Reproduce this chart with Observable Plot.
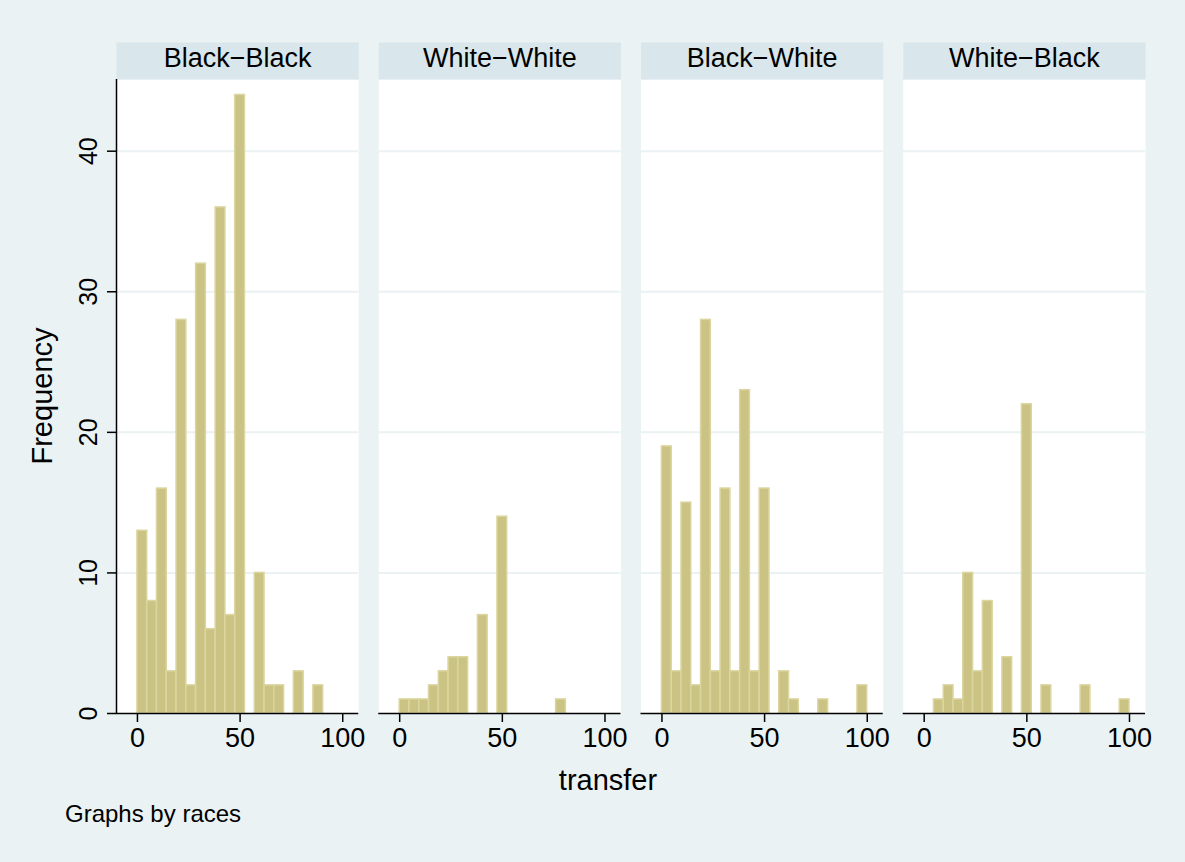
<!DOCTYPE html>
<html>
<head>
<meta charset="utf-8">
<script src="https://cdn.jsdelivr.net/npm/d3@7"></script>
<script src="https://cdn.jsdelivr.net/npm/@observablehq/plot@0.6"></script>
<style>
  html, body { margin: 0; padding: 0; background: #eaf2f3; }
  #chart { width: 1185px; height: 862px; }
</style>
</head>
<body>
<div id="chart"></div>
<script>
// Panels, one per pairing of races
const races = ["Black−Black", "White−White", "Black−White", "White−Black"];

// Shared histogram bins: 21 bins of equal width starting at 0
const binStart = 0;
const binWidth = 100 / 21;

// Frequency in each bin, per panel
const countsBlackBlack = [13, 8, 16, 3, 28, 2, 32, 6, 36, 7, 44, 0, 10, 2, 2, 0, 3, 0, 2, 0, 0];
const countsWhiteWhite = [1, 1, 1, 2, 3, 4, 4, 0, 7, 0, 14, 0, 0, 0, 0, 0, 1, 0, 0, 0, 0];
const countsBlackWhite = [19, 3, 15, 2, 28, 3, 16, 3, 23, 3, 16, 0, 3, 1, 0, 0, 1, 0, 0, 0, 2];
const countsWhiteBlack = [0, 1, 2, 1, 10, 3, 8, 0, 4, 0, 22, 0, 2, 0, 0, 0, 2, 0, 0, 0, 1];

// Axis ticks
const xTicks = [0, 50, 100];
const yTicks = [0, 10, 20, 30, 40];
const gridTicks = [10, 20, 30, 40];

const counts = [countsBlackBlack, countsWhiteWhite, countsBlackWhite, countsWhiteBlack];
const bins = races.flatMap((race, r) =>
  counts[r].map((n, i) => ({
    race,
    x1: binStart + i * binWidth,
    x2: binStart + (i + 1) * binWidth,
    n
  }))
).filter(d => d.n > 0);

const xDomain = [-10.2, 107.8];
const yDomain = [0, 45.1];
const frameHeight = 862 - 79 - 149;

const chart = Plot.plot({
  width: 1185,
  height: 862,
  marginLeft: 116,
  marginRight: 40,
  marginTop: 79,
  marginBottom: 149,
  style: {
    background: "transparent",
    fontFamily: "'Liberation Sans', Arial, Helvetica, sans-serif",
    color: "#000"
  },
  fx: { domain: races, axis: null, paddingInner: 0.0763, paddingOuter: 0, round: false },
  x: { domain: xDomain, axis: null },
  y: { domain: yDomain, axis: null },
  marks: [
    // white plot region of each panel
    Plot.frame({ fill: "white", stroke: "none" }),
    // header strip above each panel
    Plot.frame({ fill: "#d9e6eb", stroke: "none", insetTop: -37, insetBottom: frameHeight }),
    Plot.text(races, {
      fx: d => d, text: d => d, frameAnchor: "top", dy: -21,
      lineAnchor: "middle", fontSize: 27, fill: "#000"
    }),
    Plot.gridY(gridTicks, { stroke: "#eaf2f3", strokeOpacity: 1, strokeWidth: 2 }),
    Plot.rectY(bins, {
      fx: "race", x1: "x1", x2: "x2", y: "n",
      fill: "#cbc383", stroke: "#dbd59f", strokeWidth: 1.5
    }),
    Plot.ruleY([0], { stroke: "#000", strokeWidth: 1.5 }),
    Plot.ruleX([xDomain[0]], { fx: () => races[0], stroke: "#000", strokeWidth: 1.5 }),
    Plot.axisX(xTicks, { tickSize: 9, tickPadding: 5, fontSize: 27, label: null, stroke: "#000", strokeWidth: 1.5 }),
    // y tick marks
    Plot.axisY(yTicks, { tickSize: 9, tickFormat: () => "", label: null, stroke: "#000", strokeWidth: 1.5 }),
    // y tick labels, turned to read upward
    Plot.axisY(yTicks, {
      tickSize: 0, tickPadding: 28, fontSize: 25, rotate: -90,
      textAnchor: "middle", label: null
    })
  ]
});

document.getElementById("chart").appendChild(chart);

// Axis titles and note
const svg = d3.select(chart);
const font = "'Liberation Sans', Arial, Helvetica, sans-serif";
svg.append("text")
  .attr("transform", "translate(42,396) rotate(-90)")
  .attr("text-anchor", "middle")
  .attr("dominant-baseline", "central")
  .style("font-family", font).style("font-size", "29px").attr("fill", "#000")
  .text("Frequency");
svg.append("text")
  .attr("x", 608).attr("y", 780)
  .attr("text-anchor", "middle")
  .attr("dominant-baseline", "central")
  .style("font-family", font).style("font-size", "29px").attr("fill", "#000")
  .text("transfer");
svg.append("text")
  .attr("x", 65).attr("y", 813)
  .attr("text-anchor", "start")
  .attr("dominant-baseline", "central")
  .style("font-family", font).style("font-size", "24px").attr("fill", "#000")
  .text("Graphs by races");
</script>
</body>
</html>
